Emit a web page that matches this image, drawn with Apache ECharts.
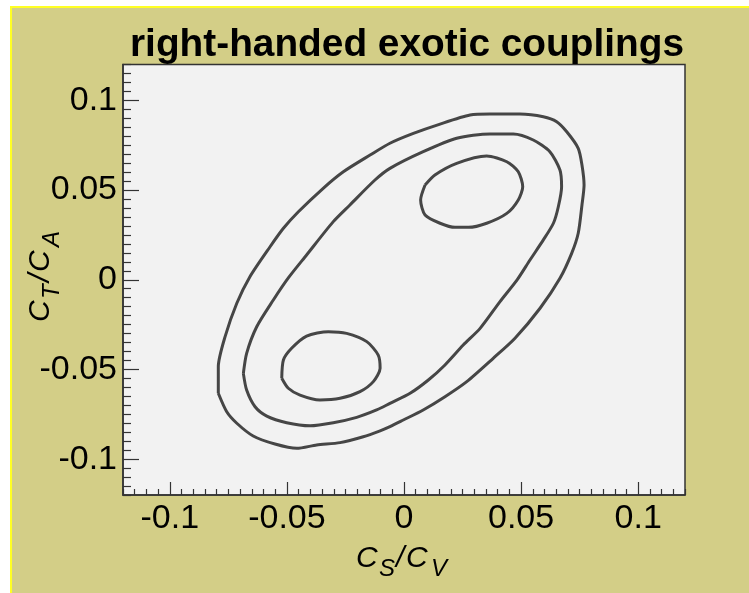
<!DOCTYPE html>
<html>
<head>
<meta charset="utf-8">
<script src="https://cdn.jsdelivr.net/npm/echarts@6/dist/echarts.min.js"></script>
<style>
  html, body { margin: 0; padding: 0; background: #ffffff; }
  #chart { width: 749px; height: 593px; }
</style>
</head>
<body>
<div id="chart"></div>
<script>
// Axis ranges and labelled ticks
const xRange = [-0.12, 0.12];
const yRange = [-0.12, 0.12];
const xTickValues = [-0.1, -0.05, 0, 0.05, 0.1];
const yTickValues = [-0.1, -0.05, 0, 0.05, 0.1];

// Confidence contours in the (C_S/C_V, C_T/C_A) plane, closed loops
const outerContour = [
  [-0.0793,-0.0633],[-0.0793,-0.0485],[-0.0764,-0.0317],[-0.0714,-0.0131],[-0.0658,0.0017],
  [-0.0572,0.0184],[-0.0515,0.0287],[-0.0451,0.0379],[-0.0345,0.0510],[-0.0259,0.0602],
  [-0.0145,0.0695],[-0.0060,0.0761],[0.0040,0.0816],[0.0154,0.0868],[0.0282,0.0918],
  [0.0367,0.0924],[0.0495,0.0924],[0.0595,0.0909],[0.0652,0.0881],[0.0695,0.0825],
  [0.0744,0.0733],[0.0760,0.0640],[0.0769,0.0528],[0.0760,0.0417],[0.0744,0.0259],
  [0.0716,0.0147],[0.0666,0.0008],[0.0581,-0.0159],[0.0474,-0.0326],[0.0381,-0.0438],
  [0.0268,-0.0568],[0.0175,-0.0652],[0.0082,-0.0726],[-0.0003,-0.0782],[-0.0060,-0.0819],
  [-0.0102,-0.0842],[-0.0174,-0.0875],[-0.0273,-0.0908],[-0.0373,-0.0921],[-0.0458,-0.0940],
  [-0.0551,-0.0916],[-0.0644,-0.0871],[-0.0714,-0.0800],[-0.0757,-0.0736],[-0.0793,-0.0633]
];
const middleContour = [
  [-0.0686,-0.0522],[-0.0672,-0.0410],[-0.0629,-0.0262],[-0.0558,-0.0113],[-0.0494,0.0010],
  [-0.0416,0.0138],[-0.0302,0.0324],[-0.0231,0.0417],[-0.0124,0.0556],[-0.0060,0.0621],
  [0.0082,0.0714],[0.0225,0.0789],[0.0367,0.0813],[0.0467,0.0813],[0.0552,0.0779],
  [0.0623,0.0714],[0.0666,0.0612],[0.0673,0.0519],[0.0659,0.0407],[0.0638,0.0315],
  [0.0595,0.0222],[0.0538,0.0110],[0.0483,-0.0001],[0.0410,-0.0122],[0.0325,-0.0271],
  [0.0253,-0.0364],[0.0175,-0.0475],[0.0104,-0.0559],[0.0026,-0.0633],[-0.0060,-0.0689],
  [-0.0117,-0.0726],[-0.0202,-0.0767],[-0.0302,-0.0797],[-0.0401,-0.0814],[-0.0501,-0.0797],
  [-0.0586,-0.0760],[-0.0636,-0.0708],[-0.0672,-0.0615],[-0.0686,-0.0522]
];
const upperIsland = [
  [0.0090,0.0528],[0.0132,0.0584],[0.0225,0.0649],[0.0353,0.0690],[0.0439,0.0658],
  [0.0488,0.0602],[0.0507,0.0519],[0.0488,0.0445],[0.0439,0.0370],[0.0353,0.0315],
  [0.0275,0.0292],[0.0218,0.0292],[0.0154,0.0315],[0.0090,0.0361],[0.0071,0.0445],
  [0.0090,0.0528]
];
const lowerIsland = [
  [-0.0522,-0.0549],[-0.0515,-0.0447],[-0.0480,-0.0382],[-0.0416,-0.0314],[-0.0323,-0.0290],
  [-0.0245,-0.0299],[-0.0159,-0.0345],[-0.0110,-0.0420],[-0.0102,-0.0494],[-0.0131,-0.0568],
  [-0.0188,-0.0624],[-0.0273,-0.0661],[-0.0359,-0.0670],[-0.0444,-0.0643],[-0.0494,-0.0605],
  [-0.0522,-0.0549]
];

// Small ticks every 0.005 between the labelled ones
function minorTicks(range, majors) {
  const out = [];
  for (let k = Math.ceil(range[0] / 0.005); k <= Math.floor(range[1] / 0.005); k++) {
    const v = +(k * 0.005).toFixed(4);
    if (!majors.some(m => Math.abs(m - v) < 1e-9)) out.push(v);
  }
  return out;
}
const xMinor = minorTicks(xRange, xTickValues);
const yMinor = minorTicks(yRange, yTickValues);

const FONT = '"Liberation Sans", Arial, Helvetica, sans-serif';
const INK = '#000000';
const FRAME = '#333333';
const LINE = '#464646';
const LABEL_SIZE = 34;

function labelText(v) { return String(+v.toFixed(3)); }

function mainAxis(range, ticks, tickLen, labelMargin, extra) {
  return Object.assign({
    type: 'value', min: range[0], max: range[1],
    axisLine: { show: true, onZero: false, lineStyle: { color: FRAME, width: 1.5 } },
    axisTick: { show: true, inside: true, length: tickLen, customValues: ticks,
                lineStyle: { color: FRAME, width: 1.2 } },
    axisLabel: { show: true, customValues: ticks, formatter: labelText, margin: labelMargin,
                 fontSize: LABEL_SIZE, fontFamily: FONT, color: INK },
    splitLine: { show: false }
  }, extra);
}
function minorAxis(range, ticks, tickLen, extra) {
  return Object.assign({
    type: 'value', min: range[0], max: range[1],
    axisLine: { show: false, onZero: false },
    axisTick: { show: true, inside: true, length: tickLen, customValues: ticks,
                lineStyle: { color: FRAME, width: 1.2 } },
    axisLabel: { show: false },
    splitLine: { show: false }
  }, extra);
}

// Subscripted italic axis titles built from pieces
function titlePieces(main1, sub1, main2, sub2) {
  const big = 'italic 30px ' + FONT;
  const small = 'italic 24px ' + FONT;
  const pieces = [
    [main1, 0, 0, big], [sub1, 23, 11, small], ['/', 40, 0, big],
    [main2, 50, 0, big], [sub2, 75, 11, small]
  ];
  return pieces.map(p => ({
    type: 'text', x: p[1], y: p[2],
    style: { text: p[0], font: p[3], fill: INK, textAlign: 'left', textVerticalAlign: 'middle',
             align: 'left', verticalAlign: 'middle' }
  }));
}

const contourStyle = { color: LINE, width: 3 };
function contourSeries(name, data) {
  return {
    name, type: 'line', data, showSymbol: false, symbol: 'none', smooth: 0.25,
    lineStyle: contourStyle, silent: true, animation: false, z: 3
  };
}

const chart = echarts.init(document.getElementById('chart'), null, { renderer: 'canvas' });
chart.setOption({
  animation: false,
  backgroundColor: '#d3ce87',
  title: {
    text: 'right-handed exotic couplings',
    left: 407, top: 26, textAlign: 'center', padding: 0,
    textStyle: { fontSize: 38.8, fontWeight: 'bold', fontFamily: FONT, color: INK }
  },
  grid: {
    left: 123, right: 64, top: 64.5, bottom: 98,
    show: true, backgroundColor: '#f2f2f2', borderColor: FRAME, borderWidth: 1.5,
    containLabel: false
  },
  xAxis: [
    mainAxis(xRange, xTickValues, 13, 7, { position: 'bottom' }),
    minorAxis(xRange, xMinor, 6, { position: 'bottom' })
  ],
  yAxis: [
    mainAxis(yRange, yTickValues, 16, 6, { position: 'left' }),
    minorAxis(yRange, yMinor, 8, { position: 'left' })
  ],
  series: [
    contourSeries('outer', outerContour),
    contourSeries('middle', middleContour),
    contourSeries('upper', upperIsland),
    contourSeries('lower', lowerIsland)
  ],
  graphic: [
    { type: 'rect', shape: { x: 0, y: 0, width: 749, height: 6 }, style: { fill: '#ffffff' }, silent: true },
    { type: 'rect', shape: { x: 0, y: 0, width: 10, height: 593 }, style: { fill: '#ffffff' }, silent: true },
    { type: 'rect', shape: { x: 10, y: 6, width: 739, height: 2 }, style: { fill: '#ffff22' }, silent: true },
    { type: 'rect', shape: { x: 10, y: 6, width: 2, height: 587 }, style: { fill: '#ffff22' }, silent: true },
    { type: 'group', x: 356, y: 558.5, children: titlePieces('C', 'S', 'C', 'V') },
    { type: 'group', x: 41, y: 322, rotation: Math.PI / 2, children: titlePieces('C', 'T', 'C', 'A') }
  ]
});
</script>
</body>
</html>
